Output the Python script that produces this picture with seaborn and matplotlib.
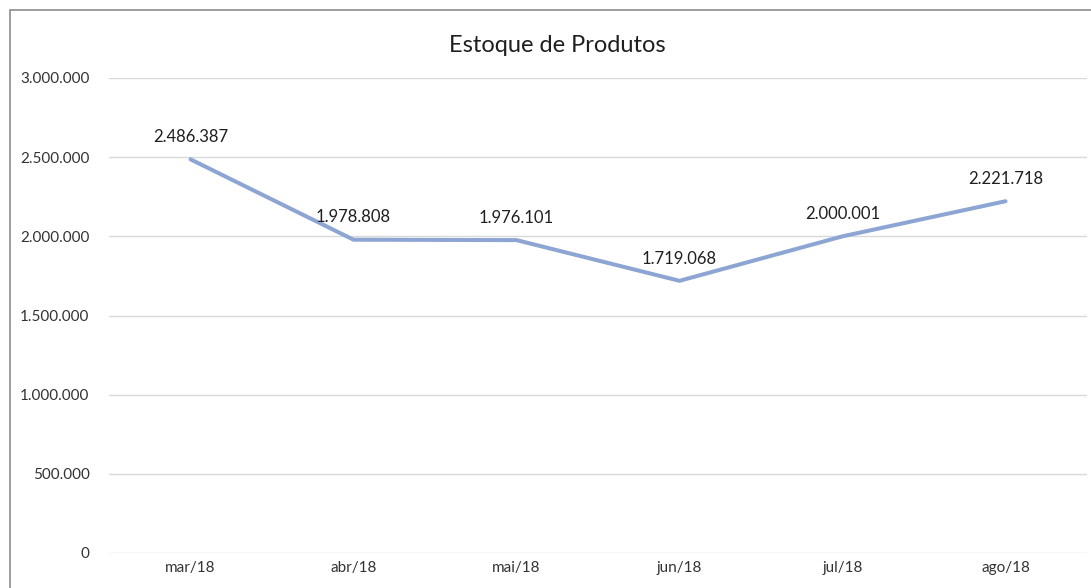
import matplotlib
matplotlib.use("Agg")
import matplotlib.pyplot as plt
import seaborn as sns
import pandas as pd
from matplotlib.patches import Rectangle
from matplotlib.ticker import FuncFormatter

months = ["mar/18", "abr/18", "mai/18", "jun/18", "jul/18", "ago/18"]
stock = [2486387, 1978808, 1976101, 1719068, 2000001, 2221718]
yticks = [0, 500000, 1000000, 1500000, 2000000, 2500000, 3000000]

def br(v):
    return f"{int(v):,}".replace(",", ".")

sns.set_theme(style="white")
plt.rcParams['font.family'] = ['Lato', 'DejaVu Sans']

W, H = 1091, 588
fig = plt.figure(figsize=(W / 100, H / 100), dpi=100)
ax = fig.add_axes([109 / W, 1 - 553 / H, (1087 - 109) / W, (553 - 78) / H])

df = pd.DataFrame({"mes": months, "estoque": stock})
df["x"] = range(len(months))
sns.lineplot(data=df, x="x", y="estoque", ax=ax, color="#8DA5D3", linewidth=2.9,
             solid_capstyle="round", zorder=3)

for xi, v in zip(df["x"], df["estoque"]):
    ax.annotate(br(v), (xi, v), xytext=(0, 16), textcoords="offset points",
                ha="center", va="center", fontsize=12, color="#1f1f1f")

ax.set_xlim(-0.5, len(months) - 0.5)
ax.set_ylim(0, 3000000)
ax.set_yticks(yticks)
ax.yaxis.set_major_formatter(FuncFormatter(lambda v, p: br(v)))
ax.set_xticks(range(len(months)))
ax.set_xticklabels(months)
ax.tick_params(axis="both", length=0, labelsize=11, labelcolor="#333333")
ax.tick_params(axis="y", pad=14)
ax.tick_params(axis="x", pad=6)
ax.grid(axis="y", color="#d9d9d9", linewidth=1)
ax.set_axisbelow(True)
for s in ax.spines.values():
    s.set_visible(False)
ax.set_xlabel("")
ax.set_ylabel("")

fig.text(557 / W, 1 - 45 / H, "Estoque de Produtos", ha="center", va="center",
         fontsize=17, color="#1f1f1f")

fig.patches.append(Rectangle((10 / W, -0.1), 1.2, 1.1 - 10 / H, transform=fig.transFigure,
                             fill=False, edgecolor="#8c8c8c", linewidth=1.2))

fig.savefig("out.png", dpi=100)
